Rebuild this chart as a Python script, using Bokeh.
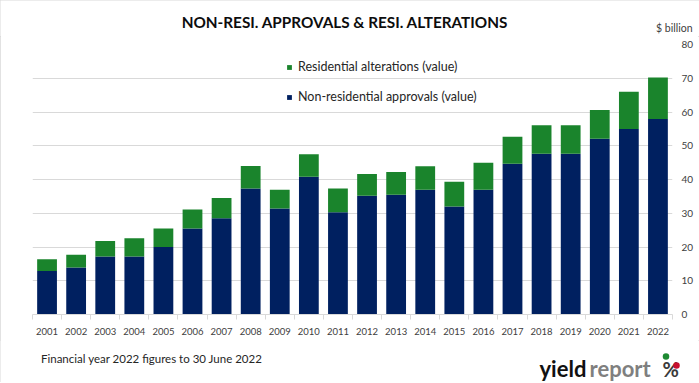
from bokeh.plotting import figure
from bokeh.models import Range1d, FixedTicker, Legend, LegendItem, ColumnDataSource
from bokeh.layouts import column
from bokeh.core.properties import value
from bokeh.embed import file_html
from bokeh.resources import INLINE

# ---- data ----
years = ["2001", "2002", "2003", "2004", "2005", "2006", "2007", "2008",
         "2009", "2010", "2011", "2012", "2013", "2014", "2015", "2016",
         "2017", "2018", "2019", "2020", "2021", "2022"]
non_res_approvals = [12.9, 13.9, 17.2, 17.2, 20.0, 25.5, 28.5, 37.3, 31.4,
                     40.8, 30.3, 35.2, 35.5, 37.0, 32.0, 37.0, 44.7, 47.6,
                     47.6, 52.1, 55.0, 57.9]
res_alterations = [3.5, 3.8, 4.6, 5.4, 5.5, 5.6, 6.0, 6.7, 5.6, 6.7, 7.0,
                   6.4, 6.7, 6.9, 7.3, 8.0, 8.0, 8.5, 8.5, 8.5, 11.0, 12.3]
y_ticks = [0, 10, 20, 30, 40, 50, 60, 70, 80]

title_text = "NON-RESI. APPROVALS & RESI. ALTERATIONS"
unit_text = "$ billion"
note_text = "Financial year 2022 figures to 30 June 2022"

NAVY = "#002060"
GREEN = "#1A842C"
GRID = "#D9D9D9"
TXT = "#404040"
FONT = "Lato"
W = 699
FW, FH = 640, 270


def blank(h, y0):
    # header / footer strip whose frame is the whole strip: x, y data = page pixels
    f = figure(width=W, height=h, x_range=Range1d(0, W), y_range=Range1d(y0 + h, y0),
               output_backend="svg", toolbar_location=None,
               x_axis_location=None, y_axis_location=None, frame_align=False,
               min_border=0, outline_line_color=None)
    f.xgrid.visible = False
    f.ygrid.visible = False
    return f


def txt(fig, x, y, text, **kw):
    fig.text(x=[x], y=[y], text=[text], text_font=value(FONT), **kw)


# ---- header ----
head = blank(36, 0)
txt(head, 344.5, 21, title_text, text_align="center", text_baseline="middle",
    text_font_style="bold", text_font_size="15.3px", text_color="#0D0D0D")
txt(head, 692, 27, unit_text, text_align="right", text_baseline="middle",
    text_font_size="10.5px", text_color=TXT)

# ---- main chart ----
xs = list(range(1, len(years) + 1))
src = ColumnDataSource(dict(x=xs, non_res=non_res_approvals, res_alt=res_alterations))

p = figure(frame_width=FW, frame_height=FH,
           x_range=Range1d(0.5, len(years) + 0.5), y_range=Range1d(0, 80),
           output_backend="svg", toolbar_location=None, y_axis_location="right",
           frame_align=False,
           min_border_left=32, min_border_top=8, min_border_bottom=26,
           min_border_right=27)
p.outline_line_color = None

rs = p.vbar_stack(["non_res", "res_alt"], x="x", width=0.68,
                  color=[NAVY, GREEN], line_color=None, source=src)

xa = p.xaxis[0]
xa.ticker = FixedTicker(ticks=xs, minor_ticks=[x - 0.5 for x in xs] + [xs[-1] + 0.5])
xa.major_label_overrides = {x: y for x, y in zip(xs, years)}
xa.major_tick_line_color = None
xa.major_tick_out = 0
xa.major_tick_in = 0
xa.minor_tick_line_color = GRID
xa.minor_tick_out = 5
xa.minor_tick_in = 0
xa.axis_line_color = GRID
xa.major_label_standoff = 8
xa.major_label_text_font = FONT
xa.major_label_text_font_size = "9.5px"
xa.major_label_text_color = TXT

ya = p.yaxis[0]
ya.ticker = FixedTicker(ticks=y_ticks)
ya.axis_line_color = None
ya.major_tick_line_color = None
ya.minor_tick_line_color = None
ya.major_tick_out = 0
ya.major_tick_in = 0
ya.major_label_standoff = 9
ya.major_label_text_font = FONT
ya.major_label_text_font_size = "10px"
ya.major_label_text_color = TXT

p.xgrid.grid_line_color = None
p.ygrid.grid_line_color = GRID
p.ygrid.ticker = FixedTicker(ticks=y_ticks)

legend = Legend(items=[LegendItem(label="Residential alterations (value)", renderers=[rs[1]]),
                       LegendItem(label="Non-residential approvals (value)", renderers=[rs[0]])],
                location=(254, 210), glyph_width=6, glyph_height=6, label_standoff=6,
                label_height=14, spacing=15, padding=0, margin=0,
                border_line_color=None, background_fill_alpha=0,
                label_text_font=FONT, label_text_font_size="12.5px",
                label_text_color="#262626")
p.add_layout(legend)

# ---- footer ----
foot = blank(42, 340)
txt(foot, 40.5, 358, note_text, text_align="left", text_baseline="middle",
    text_font_size="11.5px", text_color="#262626")
txt(foot, 539, 368, "yield", text_align="left", text_baseline="alphabetic",
    text_font_style="bold", text_font_size="22px", text_color="#111111")
txt(foot, 589, 368, "report", text_align="left", text_baseline="alphabetic",
    text_font_style="bold", text_font_size="22px", text_color="#7F7F7F")
txt(foot, 662, 368, "%", text_align="left", text_baseline="alphabetic",
    text_font_style="bold", text_font_size="20px", text_color="#3A3A3A")
foot.scatter(x=[665.5, 676], y=[356, 365], size=6.5, marker="circle",
             fill_color=["#1E8A32", "#C8102E"], line_color=None)

layout = column(head, p, foot, spacing=0,
                styles={"outline": "1px solid #D9D9D9", "outline-offset": "-1px"})
open("out.html", "w").write(file_html(layout, INLINE))
